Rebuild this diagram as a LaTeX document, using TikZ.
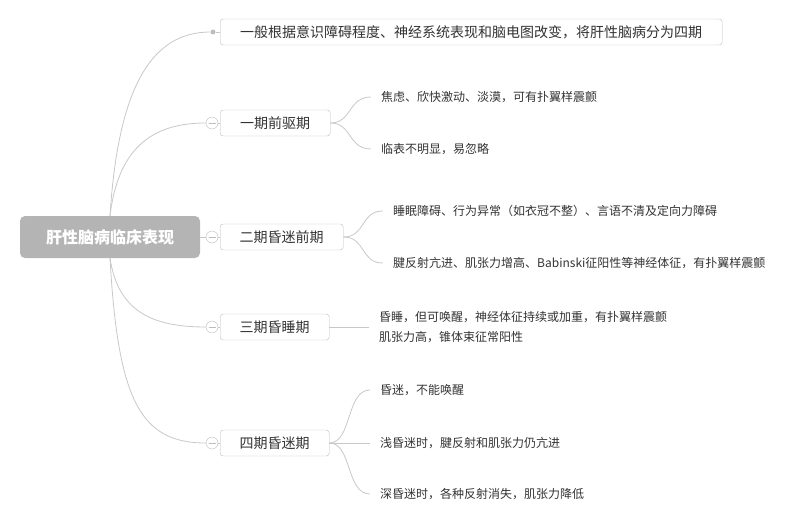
\documentclass[tikz,border=0pt]{standalone}
\usepackage{fontspec}
\setmainfont{Noto Sans CJK SC}
\usetikzlibrary{positioning}
\definecolor{linegray}{HTML}{C8C8C8}
\definecolor{boxgray}{HTML}{BDBDBD}
\definecolor{rootgray}{HTML}{B4B4B4}
\definecolor{txtgray}{HTML}{333333}

\begin{document}
\begin{tikzpicture}[
    x=1pt, y=-1pt,
    link/.style={draw=linegray, line width=0.8pt},
    topic/.style={draw=boxgray, rounded corners=3pt, fill=white, minimum height=26pt, anchor=west, inner xsep=0pt, font=\fontsize{14}{16}\selectfont, text=txtgray},
    leaf/.style={anchor=west, inner xsep=10pt, align=left, font=\fontsize{12}{20}\selectfont, text=txtgray},
    fold/.style={circle, draw=boxgray, fill=white, minimum size=12pt, inner sep=0pt,
        path picture={\draw[boxgray] ([xshift=-3.5pt]path picture bounding box.center) -- ([xshift=3.5pt]path picture bounding box.center);}},
]
    \useasboundingbox (0,0) rectangle (799,527);

    \node[fill=rootgray, rounded corners=5pt, minimum width=180pt, minimum height=42pt, text=white, font=\fontsize{16}{18}\selectfont\bfseries] (root) at (110,237) {肝性脑病临床表现};

    % overview
    \node[topic, minimum width=502pt] (intro) at (220,32) {一般根据意识障碍程度、神经系统表现和脑电图改变，将肝性脑病分为四期};
    \node[circle, fill=boxgray, inner sep=0pt, minimum size=5pt] (dot) at (213,32) {};
    \draw[link] (root.north) .. controls (118,90) and (150,32) .. (dot);
    \draw[link] (dot) -- (intro);

    % stages
    \node[topic, minimum width=110pt] (p1) at (220,123) {一期前驱期};
    \node[topic, minimum width=123pt] (p2) at (220,237) {二期昏迷前期};
    \node[topic, minimum width=109pt] (p3) at (220,327) {三期昏睡期};
    \node[topic, minimum width=109pt] (p4) at (220,443) {四期昏迷期};

    \node[fold] (c1) at (212,123) {};
    \node[fold] (c2) at (212,237) {};
    \node[fold] (c3) at (212,327) {};
    \node[fold] (c4) at (212,443) {};

    \draw[link] (root.north) .. controls (118,150) and (150,123) .. (c1);
    \draw[link] (root.east) -- (c2);
    \draw[link] (root.south) .. controls (118,310) and (150,327) .. (c3);
    \draw[link] (root.south) .. controls (118,400) and (140,443) .. (c4);
    \foreach \c/\p in {c1/p1, c2/p2, c3/p3, c4/p4} {
        \draw[link] (\c) -- (\p);
    }

    % details
    \node[leaf] (l11) at (371,97) {焦虑、欣快激动、淡漠，可有扑翼样震颤};
    \node[leaf] (l12) at (371,149) {临表不明显，易忽略};
    \node[leaf] (l21) at (383,211) {睡眠障碍、行为异常（如衣冠不整）、言语不清及定向力障碍};
    \node[leaf] (l22) at (383,263) {腱反射亢进、肌张力增高、Babinski征阳性等神经体征，有扑翼样震颤};
    \node[leaf] (l3) at (369,327) {昏睡，但可唤醒，神经体征持续或加重，有扑翼样震颤\\肌张力高，锥体束征常阳性};
    \node[leaf] (l41) at (370,390) {昏迷，不能唤醒};
    \node[leaf] (l42) at (370,443) {浅昏迷时，腱反射和肌张力仍亢进};
    \node[leaf] (l43) at (370,494) {深昏迷时，各种反射消失，肌张力降低};

    \draw[link] (p1.east) .. controls (352,123) and (348,97) .. (l11.west);
    \draw[link] (p1.east) .. controls (352,123) and (348,149) .. (l12.west);
    \draw[link] (p2.east) .. controls (366,237) and (360,211) .. (l21.west);
    \draw[link] (p2.east) .. controls (366,237) and (360,263) .. (l22.west);
    \draw[link] (p3.east) -- (l3.west);
    \draw[link] (p4.east) .. controls (352,443) and (346,390) .. (l41.west);
    \draw[link] (p4.east) -- (l42.west);
    \draw[link] (p4.east) .. controls (352,443) and (346,494) .. (l43.west);
\end{tikzpicture}
\end{document}
